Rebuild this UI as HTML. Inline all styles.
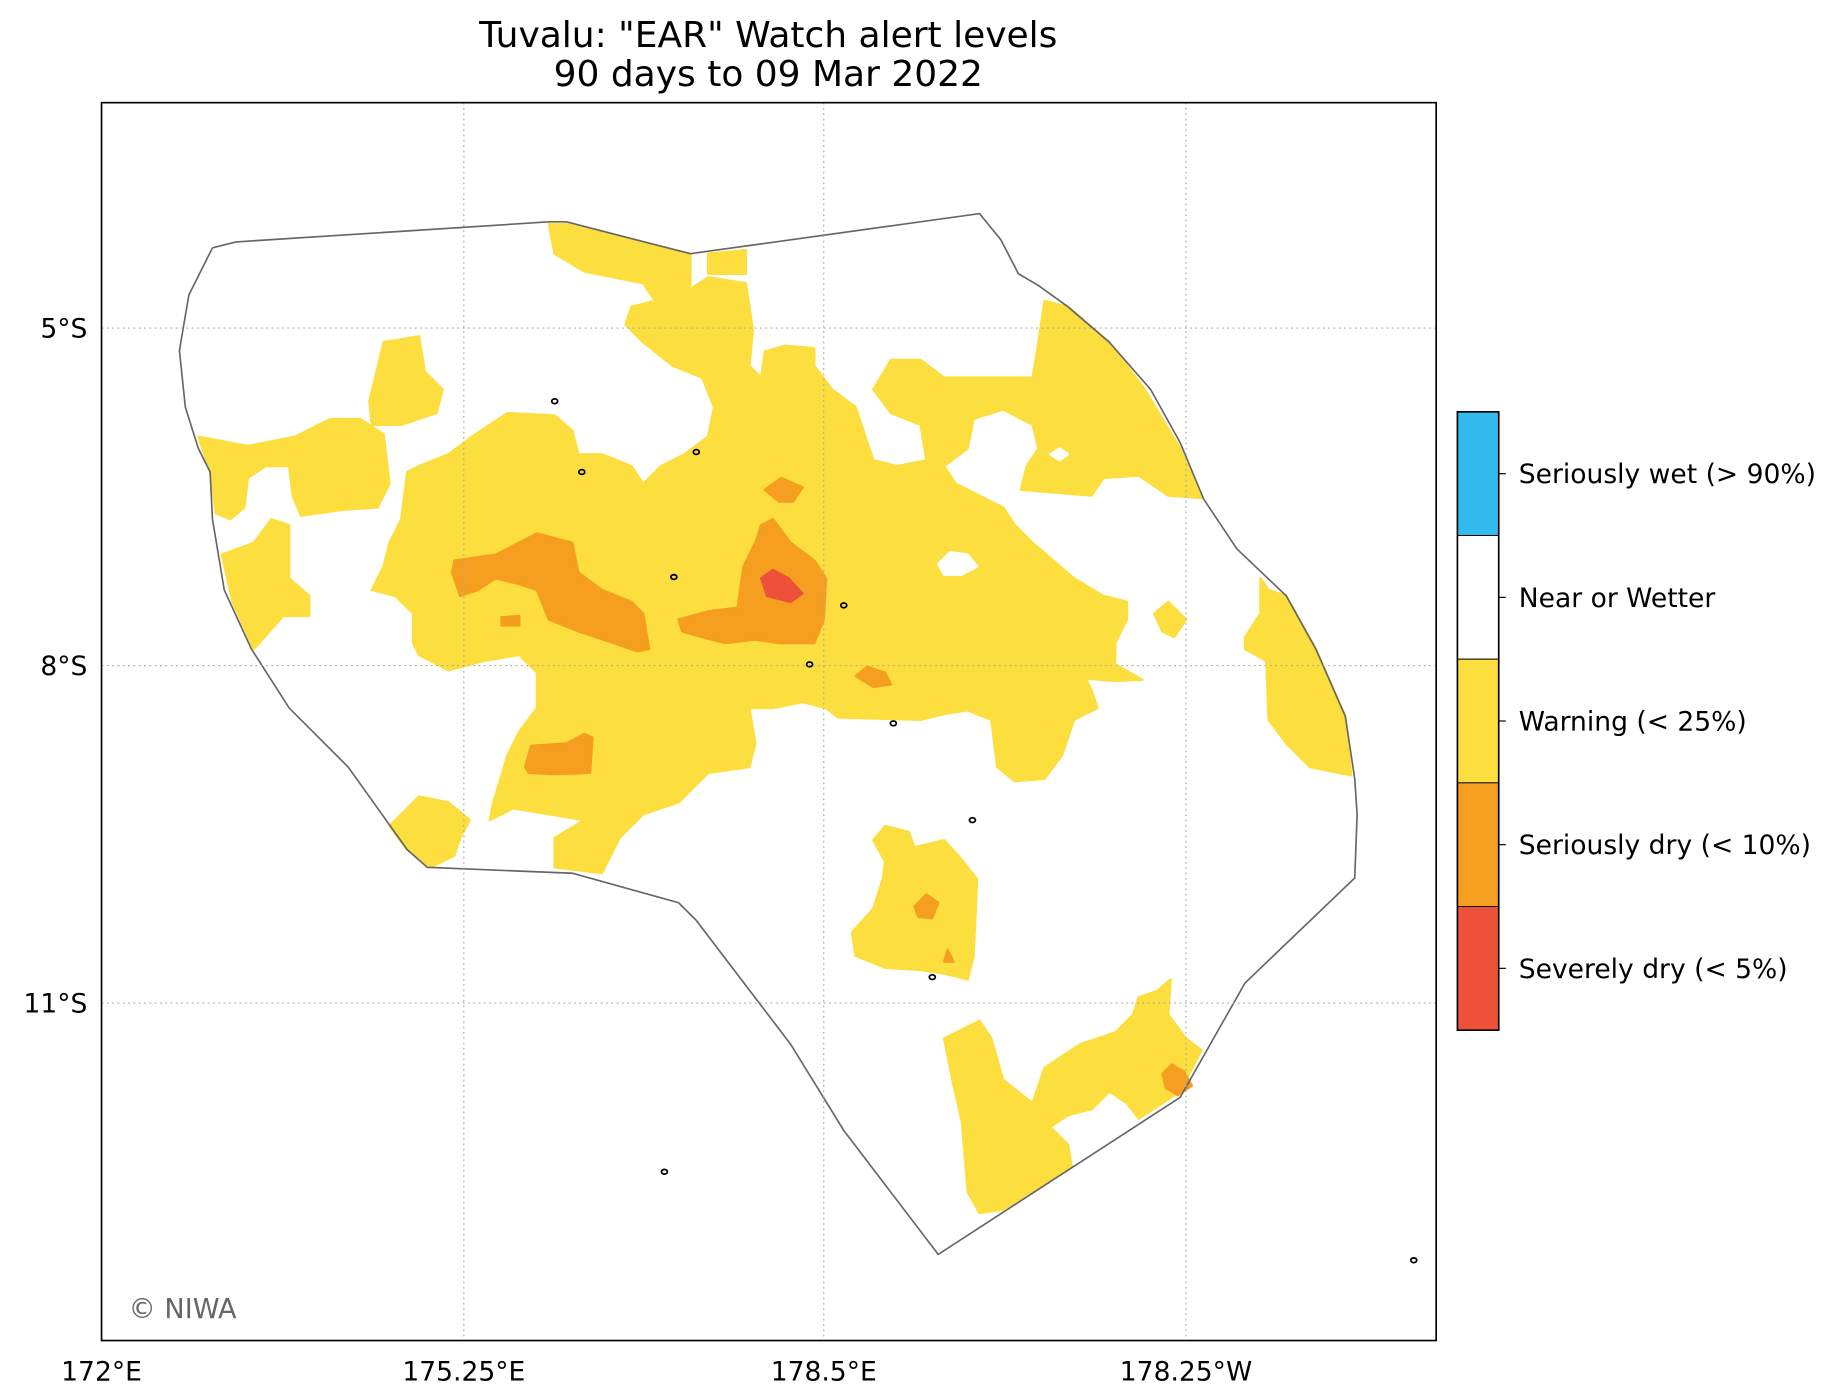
<!DOCTYPE html>
<html><head><meta charset="utf-8">
<style>
html,body{margin:0;padding:0;background:#fff;}
svg{display:block;}
text{font-family:"DejaVu Sans","Liberation Sans",sans-serif;}
</style></head>
<body>
<svg id="chart" width="1841" height="1396" viewBox="0 0 1560 1183" xmlns="http://www.w3.org/2000/svg">
  <rect width="1560" height="1183" fill="#fff"/>
  <text x="651" y="40" font-size="30.5" text-anchor="middle">Tuvalu: "EAR" Watch alert levels</text>
  <text x="651" y="73" font-size="30.5" text-anchor="middle">90 days to 09 Mar 2022</text>
  <g id="map"></g>
  <g id="grid"></g>
  <rect x="86" y="87" width="1131" height="1049" fill="none" stroke="#000" stroke-width="1.4"/>
  <g id="ticks"></g>
  <text x="109" y="1117" font-size="23" fill="#666">© NIWA</text>
  <g id="cbar"></g>
</svg>
<script>
const categories = ["Seriously wet (> 90%)","Near or Wetter","Warning (< 25%)","Seriously dry (< 10%)","Severely dry (< 5%)"];
const catColors = ["#33bbee","#ffffff","#fdde3f","#f59e1f","#ee513a"];
const xTickLabels = ["172°E","175.25°E","178.5°E","178.25°W"];
const xTickPos = [86,393,698,1005];
const yTickLabels = ["5°S","8°S","11°S"];
const yTickPos = [278,564,850];
const eez = [[180,210],[200,205],[465,188],[480,188],[585,215],[830,181],[848,203],[863,232],[880,242],[905,260],[940,290],[975,330],[1000,375],[1020,423],[1048,465],[1090,505],[1115,550],[1140,607],[1148,660],[1150,690],[1148,744],[1055,833],[1000,930],[795,1063],[715,958],[670,885],[590,780],[575,765],[485,740],[362,735],[345,720],[295,650],[245,600],[213,550],[190,500],[180,440],[178,400],[168,380],[157,345],[152,297],[160,250],[180,210]];
const warnMain = [[465,190],[480,190],[585,215],[585,245],[600,235],[632,240],[638,280],[635,310],[645,320],[648,298],[665,293],[690,295],[690,310],[705,330],[725,345],[740,390],[760,395],[785,390],[780,360],[755,350],[740,330],[755,305],[780,305],[800,320],[875,320],[880,290],[885,255],[905,260],[940,290],[970,330],[1000,380],[1018,422],[990,420],[965,403],[935,405],[925,420],[865,415],[870,395],[880,380],[875,360],[850,347],[825,355],[820,380],[800,395],[810,410],[830,420],[850,430],[860,445],[875,460],[910,490],[935,505],[955,510],[955,525],[945,545],[945,563],[968,576],[945,577],[920,575],[925,585],[930,600],[910,610],[900,640],[885,660],[860,662],[845,650],[840,610],[820,602],[800,605],[780,610],[710,608],[700,600],[680,595],[655,600],[635,600],[640,630],[635,650],[600,655],[575,680],[545,690],[525,710],[510,740],[470,735],[470,710],[495,695],[465,690],[435,685],[415,695],[418,680],[430,640],[440,620],[455,600],[455,570],[440,555],[410,560],[380,568],[355,555],[350,545],[350,520],[335,505],[315,500],[325,480],[330,460],[340,440],[345,400],[355,395],[380,385],[400,370],[430,350],[470,352],[485,365],[490,385],[510,385],[535,395],[545,410],[560,395],[580,385],[600,370],[605,345],[595,320],[570,310],[545,290],[530,275],[535,260],[555,255],[545,240],[520,235],[495,230],[470,215]];
const warnBlobs = [
 [[313,340],[325,290],[355,285],[360,315],[375,330],[370,350],[340,360],[315,360]],
 [[168,370],[210,378],[250,370],[280,355],[305,355],[325,368],[330,410],[320,430],[290,432],[255,437],[248,420],[245,395],[225,395],[210,405],[207,430],[195,440],[183,435],[178,400]],
 [[188,470],[215,460],[230,440],[245,445],[245,490],[262,505],[262,522],[240,522],[215,550],[197,510]],
 [[330,700],[355,675],[380,680],[398,695],[390,710],[385,725],[365,735],[345,720]],
 [[1068,490],[1075,500],[1090,505],[1115,550],[1140,607],[1145,657],[1110,650],[1090,630],[1075,610],[1073,560],[1055,550],[1055,540],[1068,520]],
 [[978,520],[990,510],[1005,525],[995,540],[985,535]],
 [[740,712],[750,700],[770,705],[775,718],[800,712],[812,725],[828,745],[825,810],[820,830],[800,825],[780,822],[750,820],[725,810],[722,790],[740,770],[748,745],[750,730]],
 [[800,880],[830,865],[840,880],[850,915],[875,935],[885,905],[915,885],[945,875],[960,860],[965,845],[980,840],[992,830],[990,860],[1005,880],[1018,890],[1000,925],[965,948],[955,935],[940,925],[925,940],[905,945],[890,955],[905,970],[908,988],[850,1025],[830,1028],[820,1010],[815,950],[808,920]],
 [[600,215],[632,212],[632,232],[600,232]]
];
const holes = [
 [[795,478],[805,468],[820,470],[828,480],[815,487],[800,487]],
 [[890,385],[898,380],[905,385],[898,390]]
];
const dryBlobs = [
 [[383,485],[385,475],[420,470],[455,452],[485,460],[490,485],[510,500],[535,510],[545,520],[550,550],[540,552],[520,545],[490,535],[465,525],[455,500],[440,495],[420,490],[405,500],[390,505]],
 [[425,523],[440,522],[440,530],[425,530]],
 [[575,525],[600,518],[625,515],[630,480],[640,460],[645,445],[655,440],[670,460],[690,475],[700,490],[698,525],[690,545],[660,545],[640,542],[615,545],[595,540],[578,535]],
 [[648,415],[662,405],[680,413],[672,425],[660,425]],
 [[725,573],[735,565],[750,570],[755,580],[740,582]],
 [[445,650],[450,632],[480,630],[495,622],[502,625],[500,655],[470,656],[448,655]],
 [[775,768],[785,758],[795,765],[790,778],[778,777]],
 [[800,815],[803,805],[808,815]],
 [[985,910],[993,902],[1003,908],[1010,920],[998,928],[988,922]]
];
const severeBlobs = [
 [[645,490],[655,483],[668,490],[680,503],[670,510],[650,505]]
];
const islands = [[470,340],[590,383],[493,400],[571,489],[715,513],[686,563],[757,613],[824,695],[563,993],[1198,1068],[790,828]];

const NS="http://www.w3.org/2000/svg";
function mk(tag, attrs, parent){const e=document.createElementNS(NS,tag);for(const k in attrs)e.setAttribute(k,attrs[k]);parent.appendChild(e);return e;}
function pts(a){return a.map(p=>p[0]+","+p[1]).join(" ");}
const map=document.getElementById('map');
function drawPolys(list,color,name){
  list.forEach(p=>{
    const e=mk('polygon',{points:pts(p),fill:color,stroke:color,'stroke-width':'2','stroke-linejoin':'round'},map);
    
    
  });
}
drawPolys([warnMain],catColors[2],'warning-region');
drawPolys(warnBlobs,catColors[2],'warning-region');
drawPolys(holes,'#ffffff','near-or-wetter-region');
drawPolys(dryBlobs,catColors[3],'seriously-dry-region');
drawPolys(severeBlobs,catColors[4],'severely-dry-region');
islands.forEach(p=>{
  const e=mk('ellipse',{cx:p[0],cy:p[1],rx:2.5,ry:2,fill:'none',stroke:'#000','stroke-width':'1.5'},map);
  
  
});
const b=mk('polyline',{points:pts(eez),fill:'none',stroke:'#666','stroke-width':'1.4'},map);



const grid=document.getElementById('grid'), ticks=document.getElementById('ticks');
xTickPos.forEach((x,i)=>{
  if(i>0){const g=mk('line',{x1:x,y1:87,x2:x,y2:1136,stroke:'#aaa','stroke-width':'1','stroke-dasharray':'1.5,3'},grid);
  
  }
  const t=mk('text',{x:x,y:1170,'font-size':'22.5','text-anchor':'middle'},ticks);
  t.textContent=xTickLabels[i];
  
  
});
yTickPos.forEach((y,i)=>{
  const g=mk('line',{x1:86,y1:y,x2:1217,y2:y,stroke:'#aaa','stroke-width':'1','stroke-dasharray':'1.5,3'},grid);
  
  
  const t=mk('text',{x:74,y:y+8,'font-size':'22.5','text-anchor':'end'},ticks);
  t.textContent=yTickLabels[i];
  
  
});

const cb=document.getElementById('cbar');
const cbX=1235,cbY=349,cbW=35,cbH=524,segH=cbH/categories.length;
categories.forEach((c,i)=>{
  const y=cbY+i*segH;
  const r=mk('rect',{x:cbX,y:y,width:cbW,height:segH,fill:catColors[i],stroke:'#000','stroke-width':'0.8'},cb);
  
  
  mk('line',{x1:cbX+cbW,y1:y+segH/2,x2:cbX+cbW+6,y2:y+segH/2,stroke:'#000','stroke-width':'1'},cb);
  const t=mk('text',{x:1287,y:y+segH/2+8,'font-size':'22.5'},cb);
  t.textContent=c;
  
  
});
mk('rect',{x:cbX,y:cbY,width:cbW,height:cbH,fill:'none',stroke:'#000','stroke-width':'1.4'},cb);
</script>
</body></html>
